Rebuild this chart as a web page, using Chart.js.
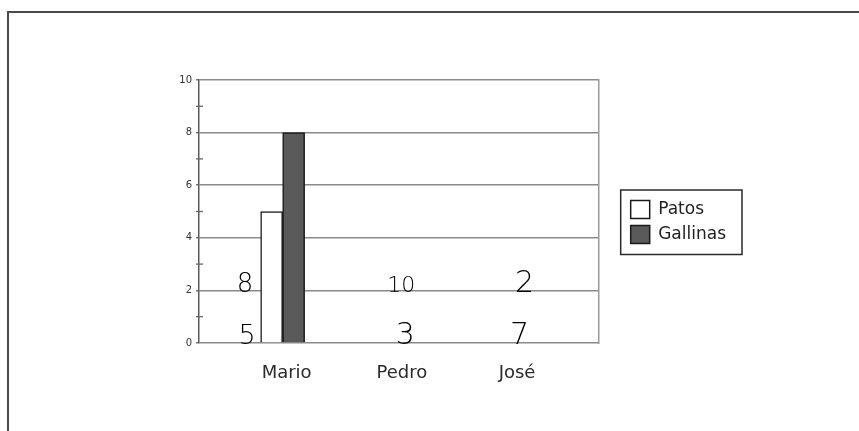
<!DOCTYPE html>
<html><head><meta charset="utf-8">
<script src="https://cdn.jsdelivr.net/npm/chart.js@4/dist/chart.umd.min.js"></script>
<style>
html,body{margin:0;padding:0;background:#fff;overflow:hidden;width:859px;height:431px;}
#wrap{position:relative;width:859px;height:431px;}
#frame{position:absolute;left:7px;top:11px;width:900px;height:500px;border-top:2px solid #4a4a4a;border-left:2px solid #4a4a4a;pointer-events:none;}
canvas{position:absolute;left:0;top:0;}
</style></head><body>
<div id="wrap"><canvas id="c" width="859" height="431"></canvas><div id="frame"></div></div>
<script>
// ---- data ----
const categories = ['Mario', 'Pedro', 'José'];
const seriesNames = ['Patos', 'Gallinas'];
const patos = [5, null, null];
const gallinas = [8, null, null];
const yTickLabels = [0, 2, 4, 6, 8, 10];
// handwritten numbers written on the sheet
const handPatos = ['5', '3', '7'];
const handGallinas = ['8', '10', '2'];

// ---- style / layout for the handwritten notes ----
const handStyle = {
  upper: { onValue: 2, dx: [-37.5, 3.5, 11.5], size: [26, 22, 30] },
  lower: { onValue: 0, dx: [-35.5, 7.5, 6.5], size: [27, 30, 30] }
};

const handPlugin = {
  id: 'hand',
  afterDatasetsDraw(chart) {
    const { ctx } = chart; const x = chart.scales.x, y = chart.scales.y;
    ctx.save();
    ctx.fillStyle = '#000';
    ctx.textAlign = 'center';
    ctx.textBaseline = 'alphabetic';
    categories.forEach((c, i) => {
      const cx = x.getPixelForValue(i);
      ctx.font = `200 ${handStyle.upper.size[i]}px "DejaVu Sans"`;
      ctx.fillText(handGallinas[i], cx + handStyle.upper.dx[i], y.getPixelForValue(handStyle.upper.onValue) + 1.5);
      ctx.font = `200 ${handStyle.lower.size[i]}px "DejaVu Sans"`;
      ctx.fillText(handPatos[i], cx + handStyle.lower.dx[i], y.getPixelForValue(handStyle.lower.onValue) + 1);
    });
    ctx.restore();
  }
};

const minorTickPlugin = {
  id: 'minorTicks',
  afterDraw(chart) {
    const { ctx } = chart; const y = chart.scales.y;
    ctx.save();
    ctx.strokeStyle = '#666'; ctx.lineWidth = 1.3;
    y.ticks.forEach(t => {
      if (!yTickLabels.includes(t.value)) {
        const py = y.getPixelForValue(t.value);
        ctx.beginPath(); ctx.moveTo(y.right - 3, py); ctx.lineTo(y.right + 4, py); ctx.stroke();
      }
    });
    ctx.restore();
  }
};

const legendFramePlugin = {
  id: 'legendFrame',
  afterDraw(chart) {
    const lg = chart.legend; if (!lg || !lg.legendHitBoxes || !lg.legendHitBoxes.length) return;
    const hb = lg.legendHitBoxes;
    let x0 = Infinity, y0 = Infinity, x1 = -Infinity, y1 = -Infinity;
    hb.forEach(b => { x0 = Math.min(x0, b.left); y0 = Math.min(y0, b.top); x1 = Math.max(x1, b.left + b.width); y1 = Math.max(y1, b.top + b.height); });
    const { ctx } = chart;
    ctx.save(); ctx.strokeStyle = '#2a2a2a'; ctx.lineWidth = 1.5;
    ctx.strokeRect(x0 - 10, y0 - 10.5, (x1 + 16) - (x0 - 10), (y1 + 11) - (y0 - 10.5));
    ctx.restore();
  }
};

const isMajor = v => yTickLabels.includes(v);

new Chart(document.getElementById('c'), {
  type: 'bar',
  data: {
    datasets: [
      { label: seriesNames[0], data: patos.map((v, i) => ({ x: i, y: v })), backgroundColor: '#ffffff', borderColor: '#1a1a1a', borderWidth: 1.5 },
      { label: seriesNames[1], data: gallinas.map((v, i) => ({ x: i, y: v })), backgroundColor: '#5a5a5a', borderColor: '#1a1a1a', borderWidth: 1.5 }
    ]
  },
  options: {
    responsive: false, animation: false, devicePixelRatio: 1, events: [],
    barThickness: 22,
    layout: { padding: { left: 9, top: 80, right: 123, bottom: 38 } },
    scales: {
      x: {
        type: 'linear', min: -0.726, max: 2.7435, offset: false,
        afterBuildTicks: s => { s.ticks = categories.map((_, i) => ({ value: i })); },
        afterFit: s => { s.height = 50; },
        grid: { display: false, drawTicks: false }, border: { display: false },
        ticks: { callback: v => categories[v] ?? '', autoSkip: false, maxRotation: 0, padding: 20, labelOffset: 4, color: '#2a2a2a', font: { family: '"DejaVu Sans"', size: 18 } }
      },
      y: {
        type: 'linear', min: 0, max: 10,
        afterFit: s => { s.width = 190; },
        ticks: { stepSize: 1, autoSkip: false, padding: 4, color: '#333', font: { family: '"DejaVu Sans"', size: 10 }, callback: v => isMajor(v) ? String(v) : '' },
        grid: { color: c => isMajor(c.tick.value) ? '#8a8a8a' : 'rgba(0,0,0,0)', tickColor: c => isMajor(c.tick.value) ? '#777' : 'rgba(0,0,0,0)', lineWidth: 1.5, tickLength: 3 },
        border: { display: true, color: '#5a5a5a', width: 1.5 }
      },
      y2: {
        type: 'linear', position: 'right', min: 0, max: 10,
        afterFit: s => { s.width = 25; },
        grid: { display: false, drawTicks: false }, ticks: { display: false },
        border: { display: true, color: '#9a9a9a', width: 1.5 }
      }
    },
    plugins: {
      tooltip: { enabled: false },
      legend: {
        position: 'right', align: 'start',
        title: { display: true, text: '', font: { size: 12 }, padding: { top: 99.1, bottom: 0 } },
        labels: { boxWidth: 19, boxHeight: 18, padding: 7, color: '#222', font: { family: '"DejaVu Sans"', size: 17 } }
      }
    }
  },
  plugins: [handPlugin, minorTickPlugin, legendFramePlugin]
});
</script>
</body></html>
